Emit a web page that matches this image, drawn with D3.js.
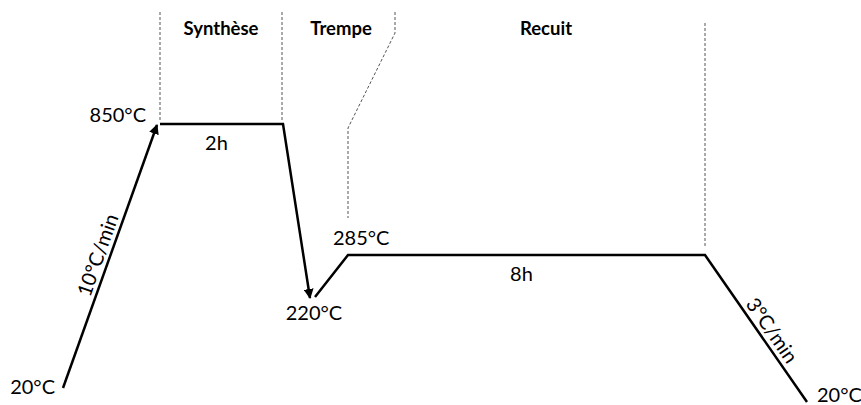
<!DOCTYPE html>
<html>
<head>
<meta charset="utf-8">
<script src="https://cdn.jsdelivr.net/npm/d3@7"></script>
<style>
  body { margin: 0; background: #fff; }
  text { font-family: Lato, "Open Sans", sans-serif; fill: #000; }
</style>
</head>
<body>
<div id="chart"></div>
<script>
// Set the stage
var svgWidth = 861;
var svgHeight = 405;

// schematic profile (time units along x, height units along y)
var rampT = [63, 157];
var rampH = [17, 280];

var quenchT = [160, 283, 310];
var quenchH = [281, 281, 107];

var annealT = [315, 348, 705, 807];
var annealH = [108, 150, 150, 3];

// dashed phase separators
var guideSynthT = [160, 160];
var guideSynthH = [393, 283];
var guideQuenchT = [282, 282];
var guideQuenchH = [393, 283];
var guideTrempeT = [395, 395, 348, 348];
var guideTrempeH = [393, 372, 277, 187];
var guideRecuitT = [705, 705];
var guideRecuitH = [382, 158];

// texts
var phases = ["Synthèse", "Trempe", "Recuit"];
var phaseT = [221, 341, 546];
var temps = ["20°C", "850°C", "220°C", "285°C", "20°C"];
var durations = ["2h", "8h"];
var rates = ["10°C/min", "3°C/min"];

var svg = d3.select("#chart")
  .append("svg")
  .attr("width", svgWidth)
  .attr("height", svgHeight);

var x = d3.scaleLinear().domain([0, 861]).range([0, svgWidth]);
var y = d3.scaleLinear().domain([0, 405]).range([svgHeight, 0]);

// arrow head
svg.append("defs").append("marker")
  .attr("id", "arrow")
  .attr("viewBox", "0 0 10 10")
  .attr("refX", 9)
  .attr("refY", 5)
  .attr("markerWidth", 4)
  .attr("markerHeight", 4)
  .attr("markerUnits", "strokeWidth")
  .attr("orient", "auto")
  .append("path")
  .attr("d", "M0,0L10,5L0,10z")
  .attr("fill", "#000");

var line = d3.line()
  .x(d => x(d[0]))
  .y(d => y(d[1]));

function pts(t, h) {
  return t.map((v, i) => [v, h[i]]);
}

// dashed guides
[[guideSynthT, guideSynthH], [guideQuenchT, guideQuenchH],
 [guideTrempeT, guideTrempeH], [guideRecuitT, guideRecuitH]].forEach(function(g) {
  svg.append("path")
    .attr("d", line(pts(g[0], g[1])))
    .attr("fill", "none")
    .attr("stroke", "#555")
    .attr("stroke-width", 1)
    .attr("stroke-dasharray", "3,2");
});

// profile
svg.append("path")
  .attr("d", line(pts(rampT, rampH)))
  .attr("fill", "none")
  .attr("stroke", "#000")
  .attr("stroke-width", 2.5)
  .attr("marker-end", "url(#arrow)");

svg.append("path")
  .attr("d", line(pts(quenchT, quenchH)))
  .attr("fill", "none")
  .attr("stroke", "#000")
  .attr("stroke-width", 2.5)
  .attr("stroke-linejoin", "miter")
  .attr("marker-end", "url(#arrow)");

svg.append("path")
  .attr("d", line(pts(annealT, annealH)))
  .attr("fill", "none")
  .attr("stroke", "#000")
  .attr("stroke-width", 2.5)
  .attr("stroke-linejoin", "miter");

// phase names
svg.selectAll(".phase")
  .data(phases)
  .enter()
  .append("text")
  .classed("phase", true)
  .attr("x", (d, i) => x(phaseT[i]))
  .attr("y", 35)
  .attr("text-anchor", "middle")
  .attr("font-size", "18.5px")
  .attr("font-weight", "bold")
  .text(d => d);

// temperature labels
var tempPos = [
  { t: rampT[0], h: rampH[0], dx: -8, dy: 6, anchor: "end" },
  { t: quenchT[0], h: quenchH[0], dx: -14, dy: -2, anchor: "end" },
  { t: quenchT[2], h: quenchH[2], dx: 4, dy: 22, anchor: "middle" },
  { t: annealT[1], h: annealH[1], dx: -15, dy: -10, anchor: "start" },
  { t: annealT[3], h: annealH[3], dx: 10, dy: 0, anchor: "start" }
];
svg.selectAll(".temp")
  .data(temps)
  .enter()
  .append("text")
  .classed("temp", true)
  .attr("x", (d, i) => x(tempPos[i].t) + tempPos[i].dx)
  .attr("y", (d, i) => y(tempPos[i].h) + tempPos[i].dy)
  .attr("text-anchor", (d, i) => tempPos[i].anchor)
  .attr("font-size", "20px")
  .text(d => d);

// durations, under the plateaus
var durPos = [
  { t0: quenchT[0], t1: quenchT[1], h: quenchH[0], dx: -5 },
  { t0: annealT[1], t1: annealT[2], h: annealH[1], dx: -5 }
];
svg.selectAll(".dur")
  .data(durations)
  .enter()
  .append("text")
  .classed("dur", true)
  .attr("x", (d, i) => (x(durPos[i].t0) + x(durPos[i].t1)) / 2 + durPos[i].dx)
  .attr("y", (d, i) => y(durPos[i].h) + 26)
  .attr("text-anchor", "middle")
  .attr("font-size", "20px")
  .text(d => d);

// rates, along the slopes
var ratePos = [
  { a: [rampT[0], rampH[0]], b: [rampT[1], rampH[1]], f: 0.49, off: -5 },
  { a: [annealT[2], annealH[2]], b: [annealT[3], annealH[3]], f: 0.56, off: -5 }
];
svg.selectAll(".rate")
  .data(rates)
  .enter()
  .append("text")
  .classed("rate", true)
  .attr("transform", function(d, i) {
    var p = ratePos[i];
    var x0 = x(p.a[0]), y0 = y(p.a[1]), x1 = x(p.b[0]), y1 = y(p.b[1]);
    var px = x0 + (x1 - x0) * p.f, py = y0 + (y1 - y0) * p.f;
    var ang = Math.atan2(y1 - y0, x1 - x0) * 180 / Math.PI;
    if (ang > 90 || ang < -90) ang += 180;
    return `translate(${px},${py}) rotate(${ang})`;
  })
  .attr("y", (d, i) => ratePos[i].off)
  .attr("text-anchor", "middle")
  .attr("font-size", "20px")
  .text(d => d);
</script>
</body>
</html>
